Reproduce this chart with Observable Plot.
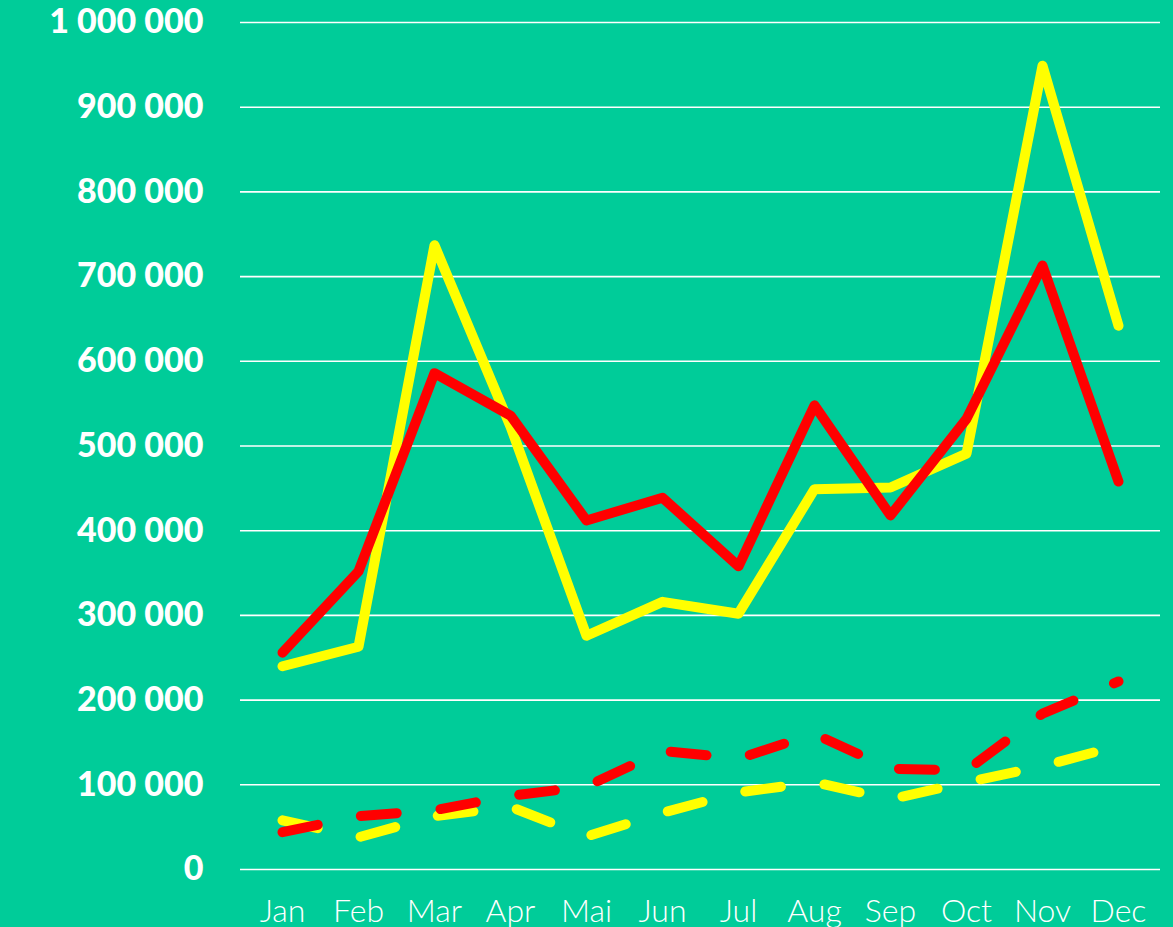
<!DOCTYPE html>
<html>
<head>
<meta charset="utf-8">
<script src="https://cdn.jsdelivr.net/npm/d3@7"></script>
<script src="https://cdn.jsdelivr.net/npm/@observablehq/plot@0.6"></script>
<style>
  html, body { margin: 0; padding: 0; background: #00CC99; }
  #chart svg { display: block; }
</style>
</head>
<body>
<div id="chart"></div>
<script>
const months = ["Jan","Feb","Mar","Apr","Mai","Jun","Jul","Aug","Sep","Oct","Nov","Dec"];
const yellowSolid = [240000, 263000, 737000, 523000, 276000, 316000, 302000, 449000, 451000, 491000, 949000, 642000];
const redSolid    = [256000, 352000, 586000, 536000, 412000, 439000, 358000, 548000, 418000, 532000, 713000, 458000];
const yellowDash  = [58000, 38000, 63000, 74000, 39000, 67000, 91000, 103000, 83000, 103000, 122000, 146000];
const redDash     = [44000, 63000, 70000, 87000, 98000, 140000, 131000, 160000, 119000, 117000, 184000, 222000];
const yTicks = [0, 100000, 200000, 300000, 400000, 500000, 600000, 700000, 800000, 900000, 1000000];

const toRows = (vals) => months.map((m, i) => ({month: m, value: vals[i]}));
const fmt = d => d3.format(",")(d).replace(/,/g, " ");

const lineOpts = (stroke, dashed) => ({
  x: "month", y: "value", stroke, strokeWidth: 10,
  strokeLinecap: "round", strokeLinejoin: "round",
  ...(dashed ? {strokeDasharray: "36,44"} : {})
});

const chart = Plot.plot({
  width: 1173,
  height: 927,
  marginLeft: 240,
  marginRight: 13,
  marginTop: 22,
  marginBottom: 58,
  style: {background: "#00CC99", color: "white", overflow: "visible"},
  x: {type: "point", domain: months, padding: 0.5, label: null},
  y: {domain: [0, 1000000], label: null},
  marks: [
    Plot.ruleY(yTicks, {stroke: "white", strokeWidth: 1.6}),
    Plot.axisY({ticks: yTicks, tickFormat: fmt, tickSize: 0, tickPadding: 37,
      fontSize: 34, fontWeight: 900, fontFamily: "Lato", fill: "white",
      style: {letterSpacing: "3px"}}),
    Plot.axisX({tickSize: 0, tickPadding: 30, fontSize: 32, fontWeight: 300,
      fontFamily: "Lato", fill: "white", style: {letterSpacing: "1px"}}),
    Plot.line(toRows(yellowDash), lineOpts("#FFFF00", true)),
    Plot.line(toRows(redDash), lineOpts("#FF0000", true)),
    Plot.line(toRows(yellowSolid), lineOpts("#FFFF00", false)),
    Plot.line(toRows(redSolid), lineOpts("#FF0000", false))
  ]
});
document.getElementById("chart").appendChild(chart);
</script>
</body>
</html>
